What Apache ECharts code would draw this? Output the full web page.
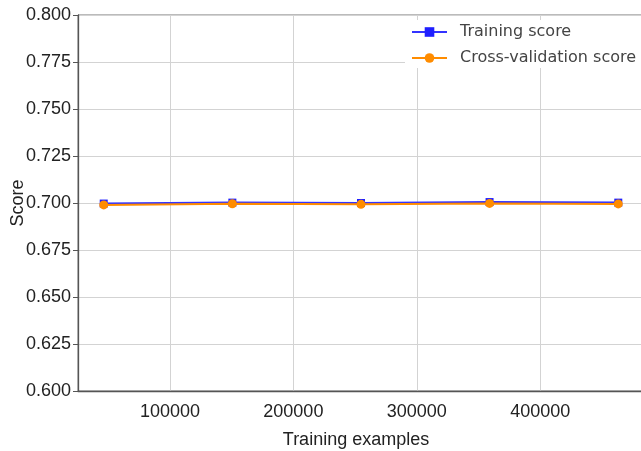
<!DOCTYPE html>
<html>
<head>
<meta charset="utf-8">
<script src="https://cdn.jsdelivr.net/npm/echarts@6/dist/echarts.min.js"></script>
<style>
html,body{margin:0;padding:0;background:#fff;}
#chart{width:641px;height:451px;}
</style>
</head>
<body>
<div id="chart"></div>
<script>
// Data
const trainSizes = [46330, 150570, 254800, 359000, 463300];
const trainingScore = [0.6997, 0.7002, 0.7000, 0.7005, 0.7002];
const cvScore = [0.6990, 0.6996, 0.6993, 0.6998, 0.6995];
const xTickValues = [100000, 200000, 300000, 400000];
const seriesNames = ['Training score', 'Cross-validation score'];

const chart = echarts.init(document.getElementById('chart'));
const pairs = (xs, ys) => xs.map((x, i) => [x, ys[i]]);

chart.setOption({
  animation: false,
  backgroundColor: '#ffffff',
  grid: {
    left: 78, top: 15, width: 566, height: 376,
    outerBoundsMode: 'none', containLabel: false,
    show: true, borderColor: '#777', borderWidth: 1, backgroundColor: 'transparent'
  },
  legend: {
    orient: 'vertical',
    left: 405, top: 20,
    padding: [4, 6, 2, 6],
    backgroundColor: '#ffffff',
    itemWidth: 35, itemHeight: 12, itemGap: 10,
    textStyle: { fontFamily: 'DejaVu Sans', fontSize: 16, color: '#444', padding: [0, 0, 0, 8] },
    data: seriesNames
  },
  xAxis: {
    type: 'value',
    min: 25480, max: 484150,
    name: 'Training examples',
    nameLocation: 'middle', nameGap: 40, nameMoveOverlap: false,
    nameTextStyle: { fontFamily: 'Liberation Sans', fontSize: 18, color: '#222', padding: [0, 10, 0, 0] },
    axisLine: { show: true, onZero: false, lineStyle: { color: '#555', width: 1.3 } },
    axisTick: { show: false, customValues: xTickValues },
    axisLabel: { customValues: xTickValues, margin: 12, fontFamily: 'Liberation Sans', fontSize: 18, color: '#222',
      formatter: v => String(v) },
    splitLine: { show: true, lineStyle: { color: '#d3d3d3', width: 1 } }
  },
  yAxis: {
    type: 'value',
    min: 0.6, max: 0.8, interval: 0.025,
    name: 'Score',
    nameLocation: 'middle', nameGap: 51, nameMoveOverlap: false,
    nameTextStyle: { fontFamily: 'Liberation Sans', fontSize: 18, color: '#222' },
    axisLine: { show: true, lineStyle: { color: '#555', width: 1.3 } },
    axisTick: { show: true, length: 5, lineStyle: { color: '#555' } },
    axisLabel: { margin: 7, fontFamily: 'Liberation Sans', fontSize: 18, color: '#222',
      formatter: v => v.toFixed(3) },
    splitLine: { show: true, lineStyle: { color: '#d3d3d3', width: 1 } }
  },
  series: [
    {
      name: seriesNames[0], type: 'line',
      data: pairs(trainSizes, trainingScore),
      symbol: 'rect', symbolSize: 8, showAllSymbol: true,
      itemStyle: { color: '#1f1fff' },
      lineStyle: { color: '#3333ff', width: 2 },
      z: 2
    },
    {
      name: seriesNames[1], type: 'line',
      data: pairs(trainSizes, cvScore),
      symbol: 'circle', symbolSize: 9, showAllSymbol: true,
      itemStyle: { color: '#ff8c00' },
      lineStyle: { color: '#ff8c00', width: 2 },
      z: 3
    }
  ]
});
</script>
</body>
</html>
